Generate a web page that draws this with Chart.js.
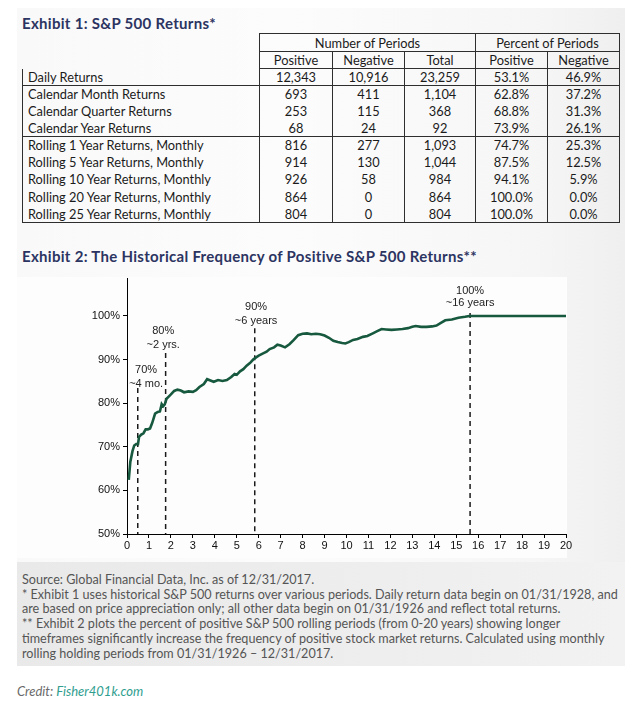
<!DOCTYPE html>
<html><head><meta charset="utf-8">
<script src="https://cdn.jsdelivr.net/npm/chart.js@4.4.0/dist/chart.umd.min.js"></script>
<style>
html,body{margin:0;padding:0;background:#fff;width:640px;height:702px;overflow:hidden;font-family:Lato,"Open Sans",sans-serif;}
#card{position:absolute;left:17px;top:8px;width:608px;height:658px;background:linear-gradient(90deg,#f9f9f9 0%,#fcfcfc 45%,#f6f6f6 85%,#efefef 100%);}
#plotbg{position:absolute;left:17px;top:277px;width:550px;height:281px;background:#fdfdfd;}
#foot{position:absolute;left:17px;top:562px;width:608px;height:104px;background:linear-gradient(90deg,#e9e9e9 0%,#eeeeee 60%,#f2f2f2 100%);}
.title{position:absolute;left:22px;font-weight:bold;font-size:15px;letter-spacing:0.3px;color:#2c3462;white-space:nowrap;line-height:18px;}
#tbl{position:absolute;left:22px;top:33px;border-collapse:collapse;font-size:12.8px;color:#1b1b1b;table-layout:fixed;}
#tbl tr{height:17px;}
#tbl tr.h1{height:18px;}
#tbl tr.r4{height:17.2px;}
#tbl td{padding:0;text-align:center;line-height:14px;white-space:nowrap;}
#tbl td.lab{text-align:left;padding-left:5px;}
#tbl td.b{border-left:1.6px solid #2e2e2e;border-right:1.6px solid #2e2e2e;}
#tbl tr.h1 td.b{border-top:1.6px solid #2e2e2e;border-bottom:1.6px solid #2e2e2e;}
#tbl tr.h2 td.b{border-bottom:1.6px solid #2e2e2e;}
#tbl tr.sep td{border-bottom:1.6px solid #2e2e2e;}
#tbl tr.last td{border-bottom:1.6px solid #2e2e2e;}
#notes{position:absolute;left:22px;top:573px;font-size:12.6px;line-height:14.7px;color:#555;white-space:nowrap;}
#credit{position:absolute;left:17px;top:683px;font-size:13px;font-style:italic;color:#6a6a6a;white-space:nowrap;}
#credit span{color:#2f9e8f;}
#cv{position:absolute;left:40px;top:265px;}
</style></head>
<body>
<div id="card"></div>
<div id="plotbg"></div>
<div id="foot"></div>
<div class="title" style="top:14px">Exhibit 1: S&amp;P 500 Returns*</div>
<table id="tbl"></table>
<div class="title" style="top:247px">Exhibit 2: The Historical Frequency of Positive S&amp;P 500 Returns**</div>
<canvas id="cv" width="560" height="295"></canvas>
<div id="notes">Source: Global Financial Data, Inc. as of 12/31/2017.<br>* Exhibit 1 uses historical S&amp;P 500 returns over various periods. Daily return data begin on 01/31/1928, and<br>are based on price appreciation only; all other data begin on 01/31/1926 and reflect total returns.<br>** Exhibit 2 plots the percent of positive S&amp;P 500 rolling periods (from 0-20 years) showing longer<br>timeframes significantly increase the frequency of positive stock market returns. Calculated using monthly<br>rolling holding periods from 01/31/1926 – 12/31/2017.</div>
<div id="credit">Credit: <span>Fisher401k.com</span></div>
<script>
// ---- Exhibit 1 table data ----
const rowLabels = ['Daily Returns','Calendar Month Returns','Calendar Quarter Returns','Calendar Year Returns','Rolling 1 Year Returns, Monthly','Rolling 5 Year Returns, Monthly','Rolling 10 Year Returns, Monthly','Rolling 20 Year Returns, Monthly','Rolling 25 Year Returns, Monthly'];
const positiveCounts = ['12,343','693','253','68','816','914','926','864','804'];
const negativeCounts = ['10,916','411','115','24','277','130','58','0','0'];
const totalCounts = ['23,259','1,104','368','92','1,093','1,044','984','864','804'];
const positivePct = ['53.1%','62.8%','68.8%','73.9%','74.7%','87.5%','94.1%','100.0%','100.0%'];
const negativePct = ['46.9%','37.2%','31.3%','26.1%','25.3%','12.5%','5.9%','0.0%','0.0%'];
const groupHeaders = ['Number of Periods','Percent of Periods'];
const subHeaders = ['Positive','Negative','Total','Positive','Negative'];

// ---- Exhibit 2 chart data ----
const holdingYears = [0.08,0.15,0.25,0.33,0.42,0.5,0.55,0.65,0.75,0.85,0.95,1.05,1.15,1.28,1.4,1.5,1.58,1.65,1.72,1.8,1.9,2.0,2.15,2.3,2.45,2.6,2.8,3.0,3.15,3.3,3.5,3.65,3.8,3.95,4.15,4.35,4.55,4.75,4.9,5.0,5.15,5.3,5.45,5.6,5.75,5.85,6.0,6.2,6.36,6.5,6.7,6.85,7.0,7.2,7.4,7.6,7.8,8.0,8.2,8.4,8.6,8.8,9.0,9.2,9.4,9.6,9.8,9.95,10.1,10.3,10.5,10.75,10.95,11.2,11.4,11.6,11.8,12.05,12.3,12.55,12.8,13.0,13.15,13.4,13.65,13.9,14.1,14.3,14.5,14.8,15.1,15.4,15.6,20];
const pctPositive = [62.4,66.5,69.0,70.3,70.6,70.6,72.3,72.8,73.1,74.0,74.0,74.2,75.5,77.6,78.0,78.1,79.8,79.3,79.7,81.0,81.5,82.0,82.8,83.1,82.9,82.5,82.7,82.6,83.0,83.7,84.4,85.5,85.2,84.9,85.3,85.1,85.3,86.0,86.7,86.5,87.3,87.8,88.6,89.2,90.0,90.4,90.9,91.4,91.8,92.4,92.8,93.4,93.2,92.8,93.5,94.5,95.6,95.9,96.0,95.8,95.9,95.8,95.5,95.0,94.3,94.0,93.8,93.7,94.0,94.5,94.7,95.2,95.4,96.0,96.5,97.0,96.9,96.8,96.9,97.0,97.2,97.5,97.7,97.5,97.5,97.6,97.8,98.4,99.0,99.2,99.6,99.8,100,100];
const milestoneYears = [0.49,1.76,5.82,15.63];
const milestoneTops = [83.5,91.5,97.2,100.7];
const milestoneLabels = [['70%','~4 mo.'],['80%','~2 yrs.'],['90%','~6 years'],['100%','~16 years']];
const xTickValues = [0,1,2,3,4,5,6,7,8,9,10,11,12,13,14,15,16,17,18,19,20];
const yTickValues = [50,60,70,80,90,100];

// build table
(function(){
  const t = document.getElementById('tbl');
  const widths = [237,73,72,71,72,72];
  let html = '<colgroup>' + widths.map(w=>'<col style="width:'+w+'px">').join('') + '</colgroup>';
  html += '<tr class="h1"><td></td><td class="b" colspan="3">'+groupHeaders[0]+'</td><td class="b" colspan="2">'+groupHeaders[1]+'</td></tr>';
  html += '<tr class="h2"><td></td>' + subHeaders.map(s=>'<td class="b">'+s+'</td>').join('') + '</tr>';
  for (let i=0;i<rowLabels.length;i++){
    let cls = 'body';
    if (i===0 || i===3) cls += ' sep';
    if (i===rowLabels.length-1) cls += ' last';
    if (i>=4) cls += ' r4';
    html += '<tr class="'+cls+'"><td class="lab b">'+rowLabels[i]+'</td><td class="b">'+positiveCounts[i]+'</td><td class="b">'+negativeCounts[i]+'</td><td class="b">'+totalCounts[i]+'</td><td class="b">'+positivePct[i]+'</td><td class="b">'+negativePct[i]+'</td></tr>';
  }
  t.innerHTML = html;
})();

const datasets = [{
  data: holdingYears.map((x,i)=>({x:x,y:pctPositive[i]})),
  borderColor:'#17593f', borderWidth:2.6, pointRadius:0, tension:0, order:0
}];
milestoneYears.forEach((x,i)=>{
  // drawn from top down so the dash pattern starts right under each label
  datasets.push({data:[{x:x,y:milestoneTops[i]},{x:x,y:50}], borderColor:'#1a1a1a', borderWidth:1.5, borderDash:[5,4], pointRadius:0, order:1});
});
const labelPos = [
  {x:0.87, y1:87.6, y2:84.4},
  {x:1.65, y1:96.6, y2:93.3},
  {x:5.88, y1:102.1, y2:98.9},
  {x:15.63, y1:105.7, y2:103.05}
];
const labelPlugin = {
  id:'milestoneLabels',
  afterDatasetsDraw(chart){
    const {ctx, scales:{x,y}} = chart;
    ctx.save();
    ctx.font = '11px "Liberation Sans", Arial, sans-serif';
    ctx.fillStyle = '#222';
    ctx.textAlign = 'center'; ctx.textBaseline = 'middle';
    milestoneLabels.forEach((l,i)=>{
      const p = labelPos[i];
      ctx.fillText(l[0], x.getPixelForValue(p.x), y.getPixelForValue(p.y1));
      ctx.fillText(l[1], x.getPixelForValue(p.x), y.getPixelForValue(p.y2));
    });
    ctx.restore();
  }
};
new Chart(document.getElementById('cv'), {
  type:'line',
  data:{datasets:datasets},
  options:{
    responsive:false, animation:false,
    layout:{padding:{top:13,right:34,left:0,bottom:0}},
    plugins:{legend:{display:false}, tooltip:{enabled:false}},
    scales:{
      x:{type:'linear', min:0, max:20,
        afterBuildTicks:(s)=>{s.ticks = xTickValues.map(v=>({value:v}));},
        afterFit:(s)=>{s.height=26;},
        grid:{drawOnChartArea:false, drawTicks:true, tickLength:4, color:'#000'},
        border:{display:true,color:'#000',width:1},
        ticks:{font:{family:'"Liberation Sans", Arial, sans-serif', size:11}, color:'#111', padding:1, maxRotation:0}
      },
      y:{type:'linear', min:50, max:108.7,
        afterBuildTicks:(s)=>{s.ticks = yTickValues.map(v=>({value:v}));},
        afterFit:(s)=>{s.width=87;},
        grid:{drawOnChartArea:false, drawTicks:true, tickLength:4, color:'#000'},
        border:{display:true,color:'#000',width:1},
        ticks:{font:{family:'"Liberation Sans", Arial, sans-serif', size:11}, color:'#111', padding:3, callback:(v)=>v+'%'}
      }
    }
  },
  plugins:[labelPlugin]
});
</script>
</body></html>
